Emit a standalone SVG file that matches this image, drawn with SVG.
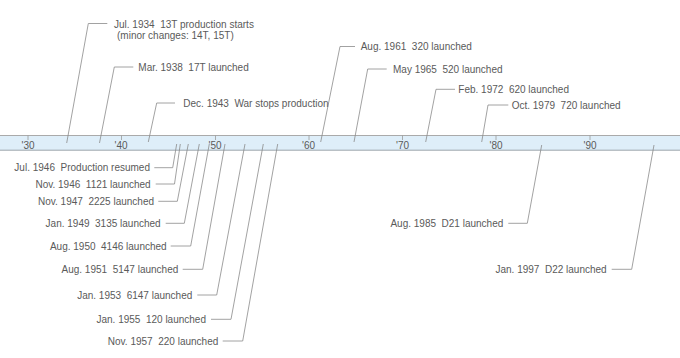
<svg xmlns="http://www.w3.org/2000/svg" width="680" height="358" viewBox="0 0 680 358">
<style>
.t{font-family:"Liberation Sans",Arial,sans-serif;font-size:10px;fill:#5a5a5a;white-space:pre}
.r{text-anchor:end}
.y{text-anchor:middle}
.ld{fill:none;stroke:#8a8a8a;stroke-width:0.8}
.tk{stroke:#999;stroke-width:0.8}
</style>
<rect width="680" height="358" fill="#fff"/>
<g id="timeline">
<rect x="0" y="135.5" width="680" height="14.5" fill="#deeef9"/>
<line x1="0" y1="135.5" x2="680" y2="135.5" stroke="#aaa" stroke-width="1"/>
<line x1="0" y1="150.2" x2="680" y2="150.2" stroke="#9aa4ac" stroke-width="1"/>
<g id="ticks">
<line class="tk" x1="28" y1="135.5" x2="28" y2="140"/>
<line class="tk" x1="121.5" y1="135.5" x2="121.5" y2="140"/>
<line class="tk" x1="215.5" y1="135.5" x2="215.5" y2="140"/>
<line class="tk" x1="309" y1="135.5" x2="309" y2="140"/>
<line class="tk" x1="402.5" y1="135.5" x2="402.5" y2="140"/>
<line class="tk" x1="496" y1="135.5" x2="496" y2="140"/>
<line class="tk" x1="590" y1="135.5" x2="590" y2="140"/>
</g>
<g id="years">
<text class="t y" x="28" y="149">'30</text>
<text class="t y" x="121" y="149">'40</text>
<text class="t y" x="215" y="149">'50</text>
<text class="t y" x="308.5" y="149">'60</text>
<text class="t y" x="402.5" y="149">'70</text>
<text class="t y" x="496" y="149">'80</text>
<text class="t y" x="590" y="149">'90</text>
</g>
</g>
<g id="connectors">
<path class="ld" d="M66.7,143 L88.3,23.5 H107.3"/>
<path class="ld" d="M99.5,143 L114.3,67 H133.3"/>
<path class="ld" d="M148.3,142 L156.7,103 H175"/>
<path class="ld" d="M320.7,142 L340,46.5 H355"/>
<path class="ld" d="M354,142 L367.7,69 H386.7"/>
<path class="ld" d="M425.7,142 L436,89.3 H455"/>
<path class="ld" d="M481.7,142 L488,105 H508.3"/>
<path class="ld" d="M176.7,144 L172.7,167.7 H154.3"/>
<path class="ld" d="M180.3,144 L174.5,184 H155.7"/>
<path class="ld" d="M188.3,144 L177.3,201.3 H158.3"/>
<path class="ld" d="M199.3,144 L184.3,223.3 H165.7"/>
<path class="ld" d="M209.3,144 L190.7,246 H170.7"/>
<path class="ld" d="M225,144 L202.7,269.3 H182.7"/>
<path class="ld" d="M245,144 L216.7,295 H197.3"/>
<path class="ld" d="M263.3,144 L231,319.3 H211"/>
<path class="ld" d="M277.7,144 L242.7,341 H222.7"/>
<path class="ld" d="M541.7,145 L527.3,223.3 H508.3"/>
<path class="ld" d="M654,145 L631.7,269.3 H611.7"/>
</g>
<g id="e1934"><text class="t" x="114" y="27.5" xml:space="preserve">Jul. 1934  13T production starts</text><text class="t" x="117" y="39" xml:space="preserve">(minor changes: 14T, 15T)</text></g>
<g id="e1938"><text class="t" x="138.3" y="70.5" xml:space="preserve">Mar. 1938  17T launched</text></g>
<g id="e1943"><text class="t" x="183.3" y="106.5" xml:space="preserve">Dec. 1943  War stops production</text></g>
<g id="e1961"><text class="t" x="360.7" y="50" xml:space="preserve">Aug. 1961  320 launched</text></g>
<g id="e1965"><text class="t" x="393" y="72.5" xml:space="preserve">May 1965  520 launched</text></g>
<g id="e1972"><text class="t" x="458.3" y="92.8" xml:space="preserve">Feb. 1972  620 launched</text></g>
<g id="e1979"><text class="t" x="511.7" y="108.5" xml:space="preserve">Oct. 1979  720 launched</text></g>
<g id="e1946a"><text class="t r" x="150" y="171.2" xml:space="preserve">Jul. 1946  Production resumed</text></g>
<g id="e1946b"><text class="t r" x="150.7" y="187.5" xml:space="preserve">Nov. 1946  1121 launched</text></g>
<g id="e1947"><text class="t r" x="154" y="204.8" xml:space="preserve">Nov. 1947  2225 launched</text></g>
<g id="e1949"><text class="t r" x="160.7" y="226.8" xml:space="preserve">Jan. 1949  3135 launched</text></g>
<g id="e1950"><text class="t r" x="166.7" y="249.5" xml:space="preserve">Aug. 1950  4146 launched</text></g>
<g id="e1951"><text class="t r" x="178.3" y="272.8" xml:space="preserve">Aug. 1951  5147 launched</text></g>
<g id="e1953"><text class="t r" x="192.3" y="298.5" xml:space="preserve">Jan. 1953  6147 launched</text></g>
<g id="e1955"><text class="t r" x="206" y="322.8" xml:space="preserve">Jan. 1955  120 launched</text></g>
<g id="e1957"><text class="t r" x="218.3" y="344.5" xml:space="preserve">Nov. 1957  220 launched</text></g>
<g id="e1985"><text class="t r" x="503.3" y="226.8" xml:space="preserve">Aug. 1985  D21 launched</text></g>
<g id="e1997"><text class="t r" x="606.7" y="272.8" xml:space="preserve">Jan. 1997  D22 launched</text></g>
</svg>
